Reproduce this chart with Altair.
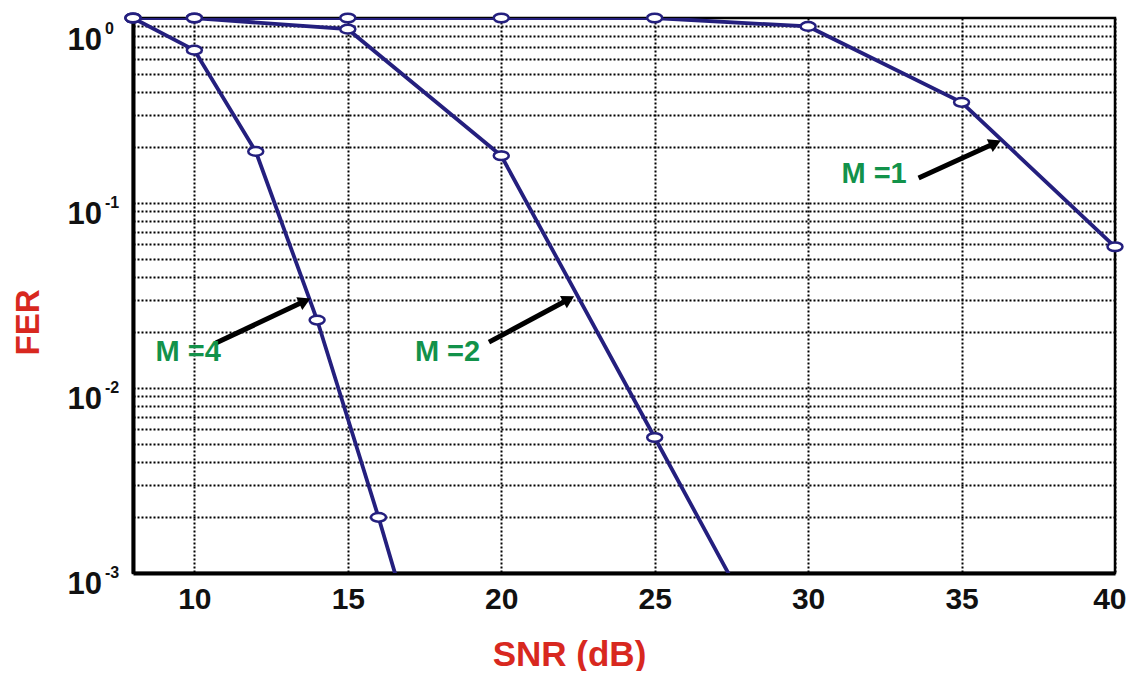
import altair as alt
import pandas as pd

# ---- data ----
snr_m1 = [8, 10, 15, 20, 25, 30, 35, 40]
fer_m1 = [1.0, 1.0, 1.0, 1.0, 1.0, 0.9, 0.35, 0.058]
snr_m2 = [8, 10, 15, 20, 25, 30]
fer_m2 = [1.0, 1.0, 0.87, 0.18, 0.0054, 0.00016]
snr_m4 = [8, 10, 12, 14, 16, 18]
fer_m4 = [1.0, 0.67, 0.19, 0.0233, 0.002, 0.00015]

x_ticks = [10, 15, 20, 25, 30, 35, 40]
y_grid = [m * 10.0 ** e for e in (-3, -2, -1) for m in range(1, 10)][1:]
y_label_vals = [1.0, 0.1, 0.01, 0.001]
y_label_exp = ["0", "-1", "-2", "-3"]

ann_labels = ["M =4", "M =2", "M =1"]
ann_x = [9.8, 18.25, 32.15]
ann_y = [0.0157, 0.0157, 0.1426]
arrow_x1 = [10.7, 19.6, 33.6]
arrow_y1 = [0.0175, 0.0177, 0.1365]
arrow_x2 = [13.6, 22.2, 36.1]
arrow_y2 = [0.0295, 0.0302, 0.211]
arrow_angle = [335, 331, 335]

NAVY = "#241f7e"
RED = "#d8281f"
GREEN = "#12924a"
FONT = "Liberation Sans, Arial"

rows = []
for name, xs, ys in (("M=1", snr_m1, fer_m1), ("M=2", snr_m2, fer_m2), ("M=4", snr_m4, fer_m4)):
    for a, b in zip(xs, ys):
        rows.append({"series": name, "snr": a, "fer": b})
df = pd.DataFrame(rows)

xscale = alt.Scale(domain=[8, 40], nice=False, zero=False)
yscale = alt.Scale(type="log", domain=[0.001, 1], nice=False)

x_axis = alt.Axis(
    values=x_ticks, grid=True, ticks=False, tickSize=0, labelFont=FONT,
    labelFontSize=30, labelFontWeight="bold", labelColor="#111111", labelPadding=11,
    labelFlush=3, labelFlushOffset=11, title="SNR (dB)", titleFont=FONT, titleFontSize=35,
    titleFontWeight="bold", titleColor=RED, titleX=436, titleY=92,
    titleBaseline="alphabetic", titleAlign="center", domainWidth=4, domainColor="black",
)
y_axis = alt.Axis(
    values=y_grid, grid=True, ticks=False, tickSize=0, labels=False,
    title="FER", titleFont=FONT, titleFontSize=33,
    titleFontWeight="bold", titleColor=RED, titleAngle=270, titleX=-95, titleY=304,
    titleBaseline="alphabetic", titleAlign="center", domainWidth=4, domainColor="black",
)


def X(field):
    return alt.X(field, scale=xscale, axis=x_axis, title="SNR (dB)")


def Y(field):
    return alt.Y(field, scale=yscale, axis=y_axis, title="FER")


lines = alt.Chart(df).mark_line(color=NAVY, strokeWidth=3.8, clip=True).encode(
    x=X("snr:Q"), y=Y("fer:Q"), detail="series:N",
)

ellipse = "M-1,0A1,0.58,0,1,1,1,0A1,0.58,0,1,1,-1,0Z"
points = alt.Chart(df).transform_filter("datum.fer >= 0.001").mark_point(
    shape=ellipse, size=225, filled=True, fill="white", stroke=NAVY,
    strokeWidth=2.5, opacity=1, fillOpacity=1,
).encode(x=X("snr:Q"), y=Y("fer:Q"))

ylab = pd.DataFrame({"v": y_label_vals, "base": ["10"] * 4, "exp": y_label_exp})
base_common = dict(align="right", baseline="alphabetic", font=FONT, fontSize=31,
                   fontWeight="bold", color="#111111")
exp_common = dict(align="left", baseline="alphabetic", font=FONT, fontSize=16,
                  fontWeight="bold", color="#111111")
ylab_base_low = alt.Chart(ylab).transform_filter("datum.v < 1").mark_text(dy=21, **base_common).encode(
    x=alt.value(-31), y=Y("v:Q"), text="base:N")
ylab_base_top = alt.Chart(ylab).transform_filter("datum.v >= 1").mark_text(dy=32, **base_common).encode(
    x=alt.value(-31), y=Y("v:Q"), text="base:N")
ylab_exp_low = alt.Chart(ylab).transform_filter("datum.v < 1").mark_text(dy=5, **exp_common).encode(
    x=alt.value(-28), y=Y("v:Q"), text="exp:N")
ylab_exp_top = alt.Chart(ylab).transform_filter("datum.v >= 1").mark_text(dy=16, **exp_common).encode(
    x=alt.value(-28), y=Y("v:Q"), text="exp:N")

ann = pd.DataFrame({"label": ann_labels, "x": ann_x, "y": ann_y,
                    "x1": arrow_x1, "y1": arrow_y1, "x2": arrow_x2, "y2": arrow_y2,
                    "ang": arrow_angle})

ann_text = alt.Chart(ann).mark_text(font=FONT, fontSize=29, fontWeight="bold",
                                    color=GREEN, baseline="middle", align="center").encode(
    x=X("x:Q"), y=Y("y:Q"), text="label:N",
)
shafts = alt.Chart(ann).mark_rule(color="black", strokeWidth=5).encode(
    x=X("x1:Q"), y=Y("y1:Q"), x2="x2:Q", y2="y2:Q",
)
heads = alt.Chart(ann).mark_point(shape="triangle-right", filled=True, color="black",
                                  size=200, opacity=1).encode(
    x=X("x2:Q"), y=Y("y2:Q"), angle=alt.Angle("ang:Q", scale=None),
)

chart = alt.layer(
    lines, points, shafts, heads, ann_text,
    ylab_base_low, ylab_base_top, ylab_exp_low, ylab_exp_top,
).properties(
    width=982, height=555,
    autosize=alt.AutoSizeParams(type="none"),
    padding={"left": 125, "top": 10, "right": 11, "bottom": 98},
).configure_view(
    stroke="black", strokeWidth=2.5,
).configure_axis(
    gridColor="black", gridDash=[2, 2], gridWidth=2, gridOpacity=1,
)

chart.save("out.html", embed_options={"renderer": "svg", "actions": False})
